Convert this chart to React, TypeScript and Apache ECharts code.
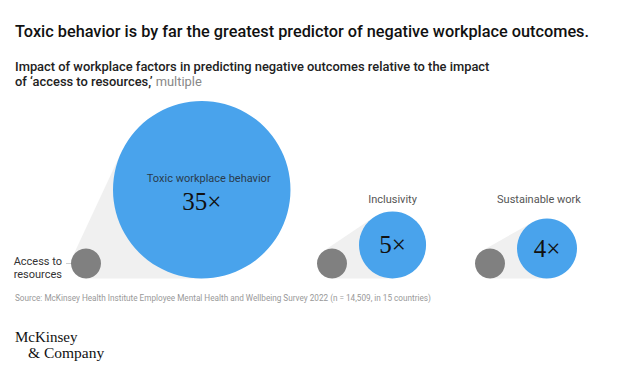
import React, { useEffect, useRef } from "react";
import * as echarts from "echarts";

const categories = ["Toxic workplace behavior", "Inclusivity", "Sustainable work"];
const multiples = [35, 5, 4];
const baselineLabel = ["Access to", "resources"];
const baselineValue = 1;
const titleText = "Toxic behavior is by far the greatest predictor of negative workplace outcomes.";
const subtitleLine1 = "Impact of workplace factors in predicting negative outcomes relative to the impact";
const subtitleLine2 = "of \u2018access to resources,\u2019";
const unitText = "multiple";
const sourceText =
  "Source: McKinsey Health Institute Employee Mental Health and Wellbeing Survey 2022 (n = 14,509, in 15 countries)";

// layout (pixels)
const groupX = [86, 332, 490];
const labelShift = [7, 0, -8];
const BASE_Y = 278.5;
const UNIT_R = 15;
const GAP = 12;

const BLUE = "#49a3ec";
const GRAY = "#808080";
const HULL = "#f0f0f0";
const SANS = "Roboto, 'Noto Sans', sans-serif";
const SERIF = "'Liberation Serif', 'DejaVu Serif', serif";

export default function App() {
  const ref = useRef<HTMLDivElement>(null);
  useEffect(() => {
    if (!ref.current) return;
    const chart = echarts.init(ref.current, undefined, { renderer: "svg" });
    const data = multiples.map((v, i) => [groupX[i], BASE_Y, v, baselineValue]);
    chart.setOption({
      animation: false,
      backgroundColor: "#ffffff",
      grid: { left: 0, right: 0, top: 0, bottom: 0 },
      xAxis: { type: "value", min: 0, max: 640, show: false },
      yAxis: { type: "value", min: 0, max: 372, inverse: true, show: false },
      series: [
        {
          type: "custom",
          data,
          renderItem: (params: any, api: any) => {
            const i = params.dataIndex;
            const bx = api.value(0);
            const by = api.value(1);
            const v = api.value(2);
            const b = api.value(3);
            const p = api.coord([bx, by]);
            const r1 = api.size([UNIT_R * Math.sqrt(b), 0])[0];
            const r2 = api.size([UNIT_R * Math.sqrt(v), 0])[0];
            const c1 = [p[0], p[1] - r1];
            const c2 = [p[0] + r1 + GAP + r2, p[1] - r2];
            const dx = c2[0] - c1[0];
            const dy = c2[1] - c1[1];
            const d = Math.sqrt(dx * dx + dy * dy);
            const ux = dx / d;
            const uy = dy / d;
            const cs = (r1 - r2) / d;
            const sn = Math.sqrt(Math.max(0, 1 - cs * cs));
            let px = -uy;
            let py = ux;
            if (py > 0) {
              px = -px;
              py = -py;
            }
            const nx = ux * cs + px * sn;
            const ny = uy * cs + py * sn;
            const t1 = [c1[0] + r1 * nx, c1[1] + r1 * ny];
            const t2 = [c2[0] + r2 * nx, c2[1] + r2 * ny];
            const children: any[] = [
              {
                type: "polygon",
                shape: { points: [t1, t2, [c2[0], p[1]], [c1[0], p[1]]] },
                style: { fill: HULL },
              },
              { type: "circle", shape: { cx: c1[0], cy: c1[1], r: r1 }, style: { fill: GRAY } },
              { type: "circle", shape: { cx: c2[0], cy: c2[1], r: r2 }, style: { fill: BLUE } },
            ];
            if (i === 0) {
              children.push(
                {
                  type: "text",
                  style: {
                    text: categories[i],
                    x: c2[0] + labelShift[i],
                    y: c2[1] - 11,
                    fill: "#2a3b4c",
                    fontSize: 11,
                    fontFamily: SANS,
                    align: "center",
                    verticalAlign: "middle",
                    textAlign: "center",
                    textVerticalAlign: "middle",
                  },
                },
                {
                  type: "text",
                  style: {
                    text: v + "\u00d7",
                    x: c2[0],
                    y: c2[1] + 12,
                    fill: "#111",
                    fontSize: 25,
                    fontFamily: SERIF,
                    align: "center",
                    verticalAlign: "middle",
                    textAlign: "center",
                    textVerticalAlign: "middle",
                  },
                },
                {
                  type: "line",
                  shape: { x1: c1[0] - r1 - 5, y1: c1[1], x2: c1[0] - r1, y2: c1[1] },
                  style: { stroke: "#d0d0d0", lineWidth: 1 },
                },
                {
                  type: "text",
                  style: {
                    text: baselineLabel.join("\n"),
                    x: c1[0] - r1 - 9,
                    y: c1[1] + 4.5,
                    fill: "#333",
                    fontSize: 11,
                    lineHeight: 13,
                    fontFamily: SANS,
                    align: "right",
                    verticalAlign: "middle",
                    textAlign: "right",
                    textVerticalAlign: "middle",
                  },
                }
              );
            } else {
              children.push(
                {
                  type: "text",
                  style: {
                    text: categories[i],
                    x: c2[0] + labelShift[i],
                    y: p[1] - 79.5,
                    fill: "#555",
                    fontSize: 11,
                    fontFamily: SANS,
                    align: "center",
                    verticalAlign: "middle",
                    textAlign: "center",
                    textVerticalAlign: "middle",
                  },
                },
                {
                  type: "text",
                  style: {
                    text: v + "\u00d7",
                    x: c2[0],
                    y: c2[1],
                    fill: "#111",
                    fontSize: 25,
                    fontFamily: SERIF,
                    align: "center",
                    verticalAlign: "middle",
                    textAlign: "center",
                    textVerticalAlign: "middle",
                  },
                }
              );
            }
            return { type: "group", children };
          },
        },
      ],
      graphic: [
        {
          type: "text",
          left: 15,
          top: 23,
          style: { text: titleText, fill: "#111", fontSize: 16.3, fontWeight: 500, fontFamily: SANS },
        },
        {
          type: "text",
          left: 15,
          top: 59,
          style: {
            text: subtitleLine1 + "\n" + "{b|" + subtitleLine2 + "} {g|" + unitText + "}",
            fill: "#222",
            fontSize: 12.9,
            fontWeight: 500,
            fontFamily: SANS,
            lineHeight: 15,
            rich: {
              b: { fill: "#222", fontSize: 12.9, fontWeight: 500, fontFamily: SANS, lineHeight: 15 },
              g: { fill: "#888", fontSize: 12.9, fontWeight: 400, fontFamily: SANS, lineHeight: 15 },
            },
          },
        },
        {
          type: "text",
          left: 15,
          top: 294,
          style: { text: sourceText, fill: "#999", fontSize: 8.2, fontFamily: SANS },
        },
        {
          type: "text",
          left: 15,
          top: 329,
          style: { text: "McKinsey", fill: "#111", fontSize: 15, fontFamily: SERIF },
        },
        {
          type: "text",
          left: 28,
          top: 344,
          style: { text: "& Company", fill: "#111", fontSize: 15.5, fontFamily: SERIF },
        },
      ],
    });
    return () => chart.dispose();
  }, []);
  return (
    <div
      ref={ref}
      style={{ position: "fixed", left: 0, top: 0, width: 640, height: 372 }}
    />
  );
}
